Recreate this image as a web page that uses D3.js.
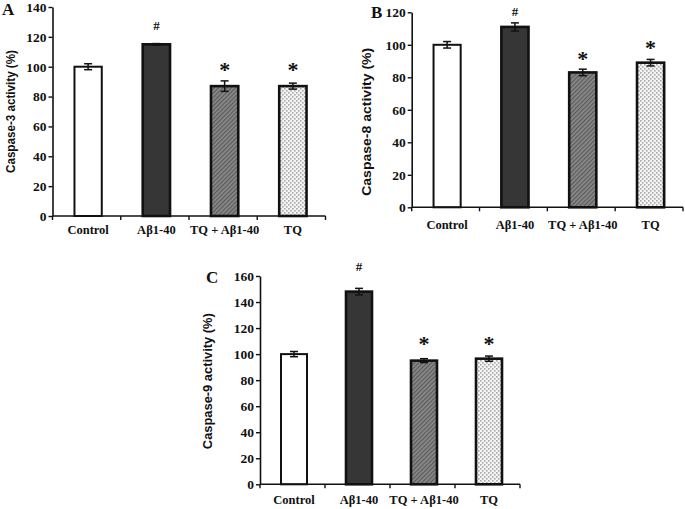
<!DOCTYPE html>
<html>
<head>
<meta charset="utf-8">
<script src="https://cdn.jsdelivr.net/npm/d3@7"></script>
<style>
  html, body { margin: 0; padding: 0; background: #fff; }
  svg { display: block; }
</style>
</head>
<body>
<svg id="chart" width="685" height="509"></svg>
<script>
// ---- data ----
const categories = ["Control", "Aβ1-40", "TQ + Aβ1-40", "TQ"];
const casp3 = [100, 115, 87, 87];
const casp3Err = [2, 0.5, 3.5, 2];
const casp8 = [100, 111, 83, 89];
const casp8Err = [2, 2.5, 2, 2];
const casp9 = [100, 148, 95, 96.5];
const casp9Err = [2, 2.5, 1.5, 2];
const sigMarks = ["", "#", "*", "*"];
const casp3MarkAt = [null, 128, 100, 100];
const casp8MarkAt = [null, 121, 93, 100];
const casp9MarkAt = [null, 168, 110, 110];
const yMax3 = 140, yMax8 = 120, yMax9 = 160, yStep = 20;

const svg = d3.select("#chart");
const defs = svg.append("defs");

// hatch pattern
const hatch = defs.append("pattern").attr("id", "hatch")
  .attr("patternUnits", "userSpaceOnUse").attr("width", 3).attr("height", 3)
  .attr("patternTransform", "rotate(45)");
hatch.append("rect").attr("width", 3).attr("height", 3).attr("fill", "#8c8c8c");
hatch.append("rect").attr("width", 1.3).attr("height", 3).attr("fill", "#5a5a5a");

// dotted pattern
const dots = defs.append("pattern").attr("id", "dots")
  .attr("patternUnits", "userSpaceOnUse").attr("width", 4).attr("height", 4);
dots.append("rect").attr("width", 4).attr("height", 4).attr("fill", "#f4f4f4");
dots.append("rect").attr("x", 0).attr("y", 0).attr("width", 1.6).attr("height", 1.6).attr("fill", "#a8a8a8");
dots.append("rect").attr("x", 2).attr("y", 2).attr("width", 1.6).attr("height", 1.6).attr("fill", "#a8a8a8");

const fills = ["#ffffff", "#363636", "url(#hatch)", "url(#dots)"];
const serif = "'Liberation Serif', 'Times New Roman', serif";

function panel(cfg) {
  const g = svg.append("g");
  const x = d3.scaleBand().domain(categories).range([cfg.x0, cfg.x1])
    .paddingInner(0.6).paddingOuter(0.3);
  const y = d3.scaleLinear().domain([0, cfg.max]).range([cfg.yBot, cfg.yTop]);
  const cx = d => x(d) + 1.5 + x.bandwidth() / 2;

  // bars
  g.selectAll("rect.bar").data(categories).join("rect")
    .attr("class", "bar")
    .attr("x", d => x(d) + 1.5)
    .attr("width", x.bandwidth())
    .attr("y", (d, i) => y(cfg.vals[i]))
    .attr("height", (d, i) => y(0) - y(cfg.vals[i]))
    .attr("fill", (d, i) => fills[i])
    .attr("stroke", "#111")
    .attr("stroke-width", (d, i) => i === 0 ? 2 : 2.6);

  // error bars
  const eg = g.selectAll("g.err").data(categories).join("g").attr("class", "err")
    .attr("stroke", "#111").attr("stroke-width", 1.5);
  eg.append("line")
    .attr("x1", cx).attr("x2", cx)
    .attr("y1", (d, i) => y(cfg.vals[i] - cfg.errs[i])).attr("y2", (d, i) => y(cfg.vals[i] + cfg.errs[i]));
  [-1, 1].forEach(s => {
    eg.append("line")
      .attr("x1", d => cx(d) - 4).attr("x2", d => cx(d) + 4)
      .attr("y1", (d, i) => y(cfg.vals[i] + s * cfg.errs[i]))
      .attr("y2", (d, i) => y(cfg.vals[i] + s * cfg.errs[i]));
  });

  // y axis
  const ya = g.append("g").attr("transform", `translate(${cfg.x0},0)`)
    .call(d3.axisLeft(y).tickValues(d3.range(0, cfg.max + 1, yStep)).tickSize(4).tickSizeOuter(0).tickPadding(2));
  ya.select(".domain").attr("stroke", "#111").attr("stroke-width", 1.6);
  ya.selectAll(".tick line").attr("stroke", "#111").attr("stroke-width", 1.4);
  ya.selectAll(".tick text").attr("fill", "#111")
    .style("font-family", serif).style("font-weight", "bold").style("font-size", "13.5px");

  // x axis line + boundary ticks
  const step = x.step();
  const bounds = d3.range(categories.length + 1).map(i => cfg.x0 + i * step);
  g.append("line").attr("x1", cfg.x0).attr("x2", cfg.x1).attr("y1", y(0)).attr("y2", y(0))
    .attr("stroke", "#111").attr("stroke-width", 1.6);
  g.selectAll("line.xt").data(bounds).join("line").attr("class", "xt")
    .attr("x1", d => d).attr("x2", d => d).attr("y1", y(0)).attr("y2", y(0) + 4)
    .attr("stroke", "#111").attr("stroke-width", 1.4);

  // category labels
  g.selectAll("text.cat").data(categories).join("text").attr("class", "cat")
    .attr("x", cx)
    .attr("y", y(0) + cfg.labOff)
    .attr("text-anchor", "middle")
    .style("font-family", serif).style("font-weight", "bold").style("font-size", "12.5px")
    .attr("fill", "#111")
    .text(d => d);

  // significance marks
  g.selectAll("text.sig").data(categories).join("text").attr("class", "sig")
    .attr("x", cx)
    .attr("y", (d, i) => cfg.markAt[i] == null ? 0 : y(cfg.markAt[i]) + (sigMarks[i] === "*" ? 10 : 5))
    .attr("text-anchor", "middle")
    .style("font-family", serif).style("font-weight", "bold")
    .style("font-size", (d, i) => sigMarks[i] === "*" ? "22px" : "13px")
    .attr("fill", "#111")
    .text((d, i) => sigMarks[i]);

  // y title
  const ym = (cfg.yTop + cfg.yBot) / 2 + cfg.titleShift;
  g.append("text")
    .attr("transform", `translate(${cfg.titleX},${ym}) rotate(-90)`)
    .attr("text-anchor", "middle")
    .attr("textLength", cfg.titleLen).attr("lengthAdjust", "spacingAndGlyphs")
    .style("font-family", "'Liberation Sans', Arial, sans-serif").style("font-weight", "bold").style("font-size", "12.5px")
    .attr("fill", "#111")
    .text(cfg.title);

  // panel letter
  g.append("text").attr("x", cfg.letterX).attr("y", cfg.letterY)
    .style("font-family", serif).style("font-weight", "bold").style("font-size", "17px")
    .attr("fill", "#111").text(cfg.letter);
}

panel({ vals: casp3, errs: casp3Err, markAt: casp3MarkAt, max: yMax3,
  x0: 52.5, x1: 325.5, yTop: 7, yBot: 216, labOff: 18,
  title: "Caspase-3 activity (%)", titleX: 15, titleLen: 123, titleShift: 0,
  letter: "A", letterX: 2, letterY: 15 });
panel({ vals: casp8, errs: casp8Err, markAt: casp8MarkAt, max: yMax8,
  x0: 411.7, x1: 683, yTop: 12.3, yBot: 207.3, labOff: 22,
  title: "Caspase-8 activity (%)", titleX: 371, titleLen: 148, titleShift: 12,
  letter: "B", letterX: 371, letterY: 18 });
panel({ vals: casp9, errs: casp9Err, markAt: casp9MarkAt, max: yMax9,
  x0: 260, x1: 520, yTop: 276, yBot: 484.3, labOff: 20,
  title: "Caspase-9 activity (%)", titleX: 212, titleLen: 136, titleShift: 1,
  letter: "C", letterX: 206, letterY: 283 });
</script>
</body>
</html>
